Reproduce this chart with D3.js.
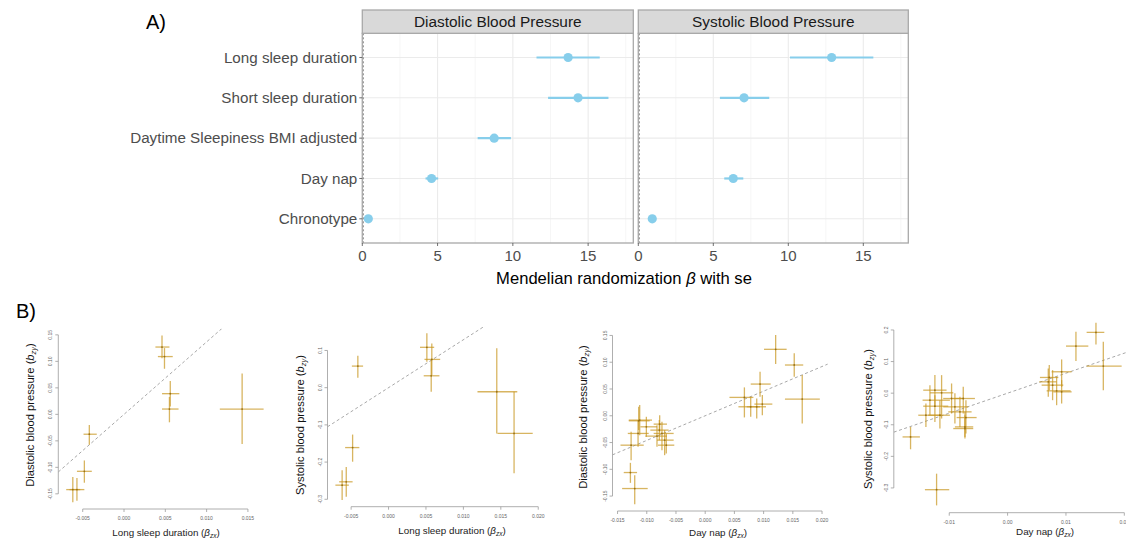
<!DOCTYPE html>
<html><head><meta charset="utf-8">
<script src="https://cdn.jsdelivr.net/npm/d3@7/dist/d3.min.js"></script>
<style>body{margin:0;background:#fff;} svg{display:block;font-family:"Liberation Sans",Arial,sans-serif;}</style>
</head><body><svg id="c" width="1126" height="539"></svg>
<script>
// ---------- Panel A data ----------
const exposures = ["Long sleep duration","Short sleep duration","Daytime Sleepiness BMI adjusted","Day nap","Chronotype"];
const facetNames = ["Diastolic Blood Pressure","Systolic Blood Pressure"];
const dbpBeta = [13.67, 14.33, 8.76, 4.60, 0.40];
const dbpLo   = [11.57, 12.34, 7.66, 4.20, 0.30];
const dbpHi   = [15.77, 16.35, 9.87, 5.04, 0.50];
const sbpBeta = [12.89, 7.05, null, 6.33, 0.93];
const sbpLo   = [10.11, 5.44, null, 5.73, 0.85];
const sbpHi   = [15.67, 8.73, null, 7.00, 1.01];
const aTicks = [0, 5, 10, 15];
const aMinor = [2.5, 7.5, 12.5, 17.5];
const aDomain = [0, 18];

// ---------- Panel B data ----------
// 1: Diastolic vs Long sleep duration
const b1x   = [0.0046, 0.0049, 0.0056, 0.0055, 0.0143, -0.0042, -0.0048, -0.0062, -0.0057];
const b1xLo = [0.0038, 0.0041, 0.0046, 0.0046, 0.0116, -0.0049, -0.0057, -0.0070, -0.0066];
const b1xHi = [0.0055, 0.0059, 0.0067, 0.0066, 0.0169, -0.0033, -0.0039, -0.0053, -0.0048];
const b1y   = [0.127, 0.109, 0.039, 0.010, 0.010, -0.0375, -0.1075, -0.142, -0.142];
const b1yLo = [0.106, 0.086, 0.015, -0.015, -0.056, -0.0575, -0.129, -0.166, -0.163];
const b1yHi = [0.149, 0.125, 0.063, 0.033, 0.077, -0.020, -0.087, -0.118, -0.120];
// 2: Systolic vs Long sleep duration
const b2x   = [0.00512, 0.00578, 0.0057, -0.0041, 0.01446, 0.01677, -0.0048, -0.00565, -0.0062];
const b2xLo = [0.0042, 0.0048, 0.0047, -0.0049, 0.01188, 0.01455, -0.0058, -0.0066, -0.0071];
const b2xHi = [0.0061, 0.0069, 0.0068, -0.0034, 0.0172, 0.01926, -0.0039, -0.0048, -0.0053];
const b2y   = [0.1085, 0.076, 0.032, 0.058, -0.011, -0.123, -0.161, -0.253, -0.262];
const b2yLo = [0.070, 0.034, -0.011, 0.027, -0.123, -0.230, -0.199, -0.293, -0.302];
const b2yHi = [0.146, 0.119, 0.074, 0.086, 0.106, -0.011, -0.126, -0.213, -0.222];
// 3: Diastolic vs Day nap
const b3x   = [0.01206,0.01524,0.01661,0.00939,0.00671,0.00779,0.00882,0.00978,-0.01121,-0.01138,-0.01007,-0.01149,-0.01268,-0.00779,-0.00785,-0.00825,-0.0074,-0.00694,-0.00666,-0.0128,-0.01206];
const b3xLo = [0.01007,0.01365,0.01365,0.00779,0.00415,0.00569,0.00711,0.00842,-0.01308,-0.01308,-0.01109,-0.01325,-0.0145,-0.00882,-0.00939,-0.01024,-0.00882,-0.00825,-0.00808,-0.01394,-0.01422];
const b3xHi = [0.01394,0.01678,0.01962,0.01121,0.00825,0.00939,0.01041,0.01149,-0.0091,-0.0095,-0.00825,-0.00967,-0.01052,-0.00654,-0.00626,-0.00654,-0.0054,-0.0054,-0.00529,-0.01166,-0.00984];
const b3y   = [0.1241,0.0948,0.0312,0.0592,0.0343,0.0168,0.0168,0.0218,-0.0081,-0.0094,-0.0206,-0.033,-0.0549,-0.0156,-0.0268,-0.038,-0.033,-0.0455,-0.0549,-0.106,-0.1359];
const b3yLo = [0.0967,0.0729,-0.0143,0.0355,-0.0031,-0.0019,-0.005,0.0012,-0.0362,-0.0268,-0.0393,-0.058,-0.0829,-0.0299,-0.0455,-0.058,-0.0642,-0.0736,-0.0705,-0.1253,-0.1652];
const b3yHi = [0.1509,0.1166,0.0761,0.0823,0.053,0.0355,0.0324,0.0387,0.02,0.0168,-0.0019,-0.0081,-0.0299,0.0012,-0.0081,-0.0175,-0.0112,-0.0268,-0.033,-0.0879,-0.111];
// 4: Systolic vs Day nap
const b4x   = [-0.01217,-0.01663,0.01171,0.01514,0.0164,0.00714,0.00697,0.00771,0.00926,0.0084,0.00926,-0.01246,-0.01131,-0.01331,-0.01246,-0.014,-0.0116,-0.0096,-0.00903,-0.0076,-0.00817,-0.00731,-0.00714,-0.00731];
const b4xLo = [-0.01417,-0.018,0.01,0.01354,0.01354,0.00554,0.00543,0.00583,0.00754,0.00669,0.00783,-0.01446,-0.01331,-0.01457,-0.01446,-0.01531,-0.0136,-0.01103,-0.01103,-0.00931,-0.01017,-0.00903,-0.00874,-0.00931];
const b4xHi = [-0.01,-0.01503,0.01383,0.01657,0.01954,0.00869,0.0084,0.00954,0.01097,0.0108,0.01097,-0.01046,-0.00931,-0.00989,-0.01017,-0.01131,-0.00989,-0.0076,-0.00674,-0.0056,-0.00617,-0.00589,-0.00531,-0.00589];
const b4y   = [-0.3055,-0.1385,0.149,0.1924,0.0856,0.0497,0.0359,0.0254,0.0677,0.0074,0.0042,0.0095,0.0011,-0.0222,-0.0412,-0.0698,-0.0698,-0.0169,-0.0433,-0.0169,-0.0592,-0.1068,-0.0772,-0.112];
const b4yLo = [-0.3552,-0.1776,0.1015,0.1543,0.0095,0.0095,-0.0116,-0.0222,0.0201,-0.0381,-0.0328,-0.0433,-0.0803,-0.0698,-0.0909,-0.1068,-0.112,-0.0645,-0.0962,-0.0645,-0.1068,-0.1438,-0.1279,-0.1385];
const b4yHi = [-0.2548,-0.1068,0.1945,0.223,0.1628,0.0888,0.0782,0.0729,0.1068,0.0518,0.0412,0.0571,0.0571,0.0254,-0.0063,-0.0328,-0.0222,0.0307,0.0,0.0201,-0.0116,-0.0592,-0.0222,-0.0698];

const b1xTicks = [-0.005, 0, 0.005, 0.010, 0.015];
const b1xLabels = ["-0.005","0.000","0.005","0.010","0.015"];
const b1yTicks = [-0.15,-0.10,-0.05,0,0.05,0.10,0.15];
const b1yLabels = ["-0.15","-0.10","-0.05","0.00","0.05","0.10","0.15"];
const b2xTicks = [-0.005, 0, 0.005, 0.010, 0.015, 0.020];
const b2xLabels = ["-0.005","0.000","0.005","0.010","0.015","0.020"];
const b2yTicks = [-0.3,-0.2,-0.1,0,0.1];
const b2yLabels = ["-0.3","-0.2","-0.1","0.0","0.1"];
const b3xTicks = [-0.015,-0.010,-0.005,0,0.005,0.010,0.015,0.020];
const b3xLabels = ["-0.015","-0.010","-0.005","0.000","0.005","0.010","0.015","0.020"];
const b3yTicks = [-0.15,-0.10,-0.05,0,0.05,0.10,0.15];
const b3yLabels = ["-0.15","-0.10","-0.05","0.00","0.05","0.10","0.15"];
const b4xTicks = [-0.01, 0, 0.01, 0.02];
const b4xLabels = ["-0.01","0.00","0.01","0.02"];
const b4yTicks = [-0.3,-0.2,-0.1,0,0.1,0.2];
const b4yLabels = ["-0.3","-0.2","-0.1","0.0","0.1","0.2"];

const bXTitles = ["Long sleep duration","Long sleep duration","Day nap","Day nap"];
const bYTitles = ["Diastolic blood pressure","Systolic blood pressure","Diastolic blood pressure","Systolic blood pressure"];
// IVW slopes (same as panel A estimates)
const bSlopes = [dbpBeta[0], sbpBeta[0], dbpBeta[3], sbpBeta[3]];

// ---------- drawing ----------
const svg = d3.select("#c");
svg.append("rect").attr("width",1126).attr("height",539).attr("fill","#fff");

// Panel A
const aTop = 33.3, aBot = 243, stripTop = 10;
const aFacetX = [[362.3, 633.3],[638.3, 908.3]];
const yA = d3.scalePoint().domain(exposures).range([aTop, aBot]).padding(0.6);
const facetData = [
  {beta: dbpBeta, lo: dbpLo, hi: dbpHi},
  {beta: sbpBeta, lo: sbpLo, hi: sbpHi}
];
facetData.forEach((fd, fi) => {
  const [x0, x1] = aFacetX[fi];
  const x = d3.scaleLinear().domain(aDomain).range([x0, x1]);
  const g = svg.append("g");
  g.append("rect").attr("x",x0).attr("y",aTop).attr("width",x1-x0).attr("height",aBot-aTop).attr("fill","#fff");
  g.selectAll(".mn").data(aMinor).join("line").attr("x1",d=>x(d)).attr("x2",d=>x(d)).attr("y1",aTop).attr("y2",aBot).attr("stroke","#F4F4F4").attr("stroke-width",0.8);
  g.selectAll(".mj").data(aTicks).join("line").attr("x1",d=>x(d)).attr("x2",d=>x(d)).attr("y1",aTop).attr("y2",aBot).attr("stroke","#EBEBEB").attr("stroke-width",1.1);
  g.selectAll(".hj").data(exposures).join("line").attr("x1",x0).attr("x2",x1).attr("y1",d=>yA(d)).attr("y2",d=>yA(d)).attr("stroke","#EBEBEB").attr("stroke-width",1.1);
  g.append("line").attr("x1",x(0)+1).attr("x2",x(0)+1).attr("y1",aTop).attr("y2",aBot).attr("stroke","#666").attr("stroke-width",0.8).attr("stroke-dasharray","2,2");
  const rows = exposures.map((e,i)=>({e, b: fd.beta[i], lo: fd.lo[i], hi: fd.hi[i]})).filter(d=>d.b!==null);
  g.selectAll(".eb").data(rows).join("line").attr("x1",d=>x(d.lo)).attr("x2",d=>x(d.hi)).attr("y1",d=>yA(d.e)).attr("y2",d=>yA(d.e)).attr("stroke","#87CEEB").attr("stroke-width",2.2);
  g.selectAll(".pt").data(rows).join("circle").attr("cx",d=>x(d.b)).attr("cy",d=>yA(d.e)).attr("r",4.6).attr("fill","#87CEEB");
  g.append("rect").attr("x",x0).attr("y",aTop).attr("width",x1-x0).attr("height",aBot-aTop).attr("fill","none").attr("stroke","#A8A8A8").attr("stroke-width",1.3);
  // strip
  g.append("rect").attr("x",x0).attr("y",stripTop).attr("width",x1-x0).attr("height",aTop-stripTop).attr("fill","#D9D9D9").attr("stroke","#A8A8A8").attr("stroke-width",1.3);
  g.append("text").attr("x",(x0+x1)/2).attr("y",(stripTop+aTop)/2+5.5).attr("text-anchor","middle").attr("font-size",15.4).attr("fill","#1A1A1A").text(facetNames[fi]);
  // x axis
  g.selectAll(".xt").data(aTicks).join("line").attr("x1",d=>x(d)).attr("x2",d=>x(d)).attr("y1",aBot).attr("y2",aBot+3).attr("stroke","#4D4D4D").attr("stroke-width",0.8);
  g.selectAll(".xl").data(aTicks).join("text").attr("x",d=>x(d)).attr("y",aBot+18).attr("text-anchor","middle").attr("font-size",15).attr("fill","#4D4D4D").text(d=>d);
});
// y labels for panel A
const gy = svg.append("g");
gy.selectAll("line").data(exposures).join("line").attr("x1",aFacetX[0][0]-3).attr("x2",aFacetX[0][0]).attr("y1",d=>yA(d)).attr("y2",d=>yA(d)).attr("stroke","#4D4D4D").attr("stroke-width",0.8);
gy.selectAll("text").data(exposures).join("text").attr("x",aFacetX[0][0]-5).attr("y",d=>yA(d)+5.3).attr("text-anchor","end").attr("font-size",15.2).attr("fill","#4D4D4D").text(d=>d);
const at = svg.append("text").attr("x",624).attr("y",284).attr("text-anchor","middle").attr("font-size",16.6).attr("fill","#000");
at.append("tspan").text("Mendelian randomization ");
at.append("tspan").attr("font-style","italic").text("β");
at.append("tspan").text(" with se");
svg.append("text").attr("x",146).attr("y",29).attr("font-size",20).attr("fill","#000").text("A)");
svg.append("text").attr("x",16).attr("y",318).attr("font-size",20).attr("fill","#000").text("B)");

// Panel B
const subplots = [
  {x:b1x,xLo:b1xLo,xHi:b1xHi,y:b1y,yLo:b1yLo,yHi:b1yHi,xt:b1xTicks,xl:b1xLabels,yt:b1yTicks,yl:b1yLabels, rect:[58.3,271.5,328.7,509], xlab:[166,536], ylab:[30,415]},
  {x:b2x,xLo:b2xLo,xHi:b2xHi,y:b2y,yLo:b2yLo,yHi:b2yHi,xt:b2xTicks,xl:b2xLabels,yt:b2yTicks,yl:b2yLabels, rect:[327.5,540.6,326.7,506.7], xlab:[452,534], ylab:[300,425]},
  {x:b3x,xLo:b3xLo,xHi:b3xHi,y:b3y,yLo:b3yLo,yHi:b3yHi,xt:b3xTicks,xl:b3xLabels,yt:b3yTicks,yl:b3yLabels, rect:[612.5,827.8,328.2,511], xlab:[718,536], ylab:[583,417]},
  {x:b4x,xLo:b4xLo,xHi:b4xHi,y:b4y,yLo:b4yLo,yHi:b4yHi,xt:b4xTicks,xl:b4xLabels,yt:b4yTicks,yl:b4yLabels, rect:[893.8,1130.4,315.4,512.7], xlab:[1045,535], ylab:[868,419]}
];
const crossCol = "#C8961E";
subplots.forEach((s, si) => {
  const [l, r, t, b] = s.rect;
  const xe = [d3.min(s.xLo), d3.max(s.xHi)], ye = [d3.min(s.yLo), d3.max(s.yHi)];
  const xp = (xe[1]-xe[0])*0.04, yp = (ye[1]-ye[0])*0.04;
  const x = d3.scaleLinear().domain([xe[0]-xp, xe[1]+xp]).range([l, r]);
  const y = d3.scaleLinear().domain([ye[0]-yp, ye[1]+yp]).range([b, t]);
  const g = svg.append("g");
  const cid = "clip"+si;
  g.append("clipPath").attr("id",cid).append("rect").attr("x",l).attr("y",t).attr("width",r-l).attr("height",b-t);
  // abline
  const xd = x.domain();
  g.append("line").attr("clip-path",`url(#${cid})`)
    .attr("x1",x(xd[0])).attr("y1",y(bSlopes[si]*xd[0])).attr("x2",x(xd[1])).attr("y2",y(bSlopes[si]*xd[1]))
    .attr("stroke","#A8A8A8").attr("stroke-width",1).attr("stroke-dasharray","3,2.5");
  const pts = s.x.map((v,i)=>({x:v, xLo:s.xLo[i], xHi:s.xHi[i], y:s.y[i], yLo:s.yLo[i], yHi:s.yHi[i]}));
  const cg = g.append("g").attr("stroke",crossCol).attr("stroke-opacity",0.7).attr("stroke-width",1.3);
  cg.selectAll(".h").data(pts).join("line").attr("x1",d=>x(d.xLo)).attr("x2",d=>x(d.xHi)).attr("y1",d=>y(d.y)).attr("y2",d=>y(d.y));
  cg.selectAll(".v").data(pts).join("line").attr("x1",d=>x(d.x)).attr("x2",d=>x(d.x)).attr("y1",d=>y(d.yLo)).attr("y2",d=>y(d.yHi));
  g.selectAll(".c").data(pts).join("circle").attr("cx",d=>x(d.x)).attr("cy",d=>y(d.y)).attr("r",0.9).attr("fill","#8A6410").attr("opacity",0.8);
  // axes
  const ax = g.append("g").attr("stroke","#9A9A9A").attr("stroke-width",0.8);
  ax.append("line").attr("x1",x(s.xt[0])).attr("x2",x(s.xt[s.xt.length-1])).attr("y1",b).attr("y2",b);
  ax.selectAll(".xt").data(s.xt).join("line").attr("x1",d=>x(d)).attr("x2",d=>x(d)).attr("y1",b).attr("y2",b+3);
  ax.append("line").attr("x1",l).attr("x2",l).attr("y1",y(s.yt[0])).attr("y2",y(s.yt[s.yt.length-1]));
  ax.selectAll(".yt").data(s.yt).join("line").attr("x1",l-3).attr("x2",l).attr("y1",d=>y(d)).attr("y2",d=>y(d));
  g.selectAll(".xtl").data(s.xt).join("text").attr("x",d=>x(d)).attr("y",b+11).attr("text-anchor","middle").attr("font-size",5).attr("fill","#666").text((d,i)=>s.xl[i]);
  g.selectAll(".ytl").data(s.yt).join("text").attr("transform",d=>`translate(${l-6},${y(d)}) rotate(-90)`).attr("text-anchor","middle").attr("font-size",5).attr("fill","#666").text((d,i)=>s.yl[i]);
  // titles
  const xt = g.append("text").attr("x",s.xlab[0]).attr("y",s.xlab[1]).attr("text-anchor","middle").attr("font-size",9.8).attr("fill","#222");
  xt.append("tspan").text(bXTitles[si]+" (");
  xt.append("tspan").attr("font-style","italic").text("β");
  xt.append("tspan").attr("font-size",6.5).attr("font-style","italic").attr("dy",1.8).text("zx");
  xt.append("tspan").attr("dy",-1.8).text(")");
  const yt = g.append("text").attr("transform",`translate(${s.ylab[0]+4},${s.ylab[1]}) rotate(-90)`).attr("text-anchor","middle").attr("font-size",11.2).attr("fill","#111");
  yt.append("tspan").text(bYTitles[si]+" (");
  yt.append("tspan").attr("font-style","italic").text("b");
  yt.append("tspan").attr("font-size",7.5).attr("font-style","italic").attr("dy",2.2).text("zy");
  yt.append("tspan").attr("dy",-2.2).text(")");
});
</script></body></html>
